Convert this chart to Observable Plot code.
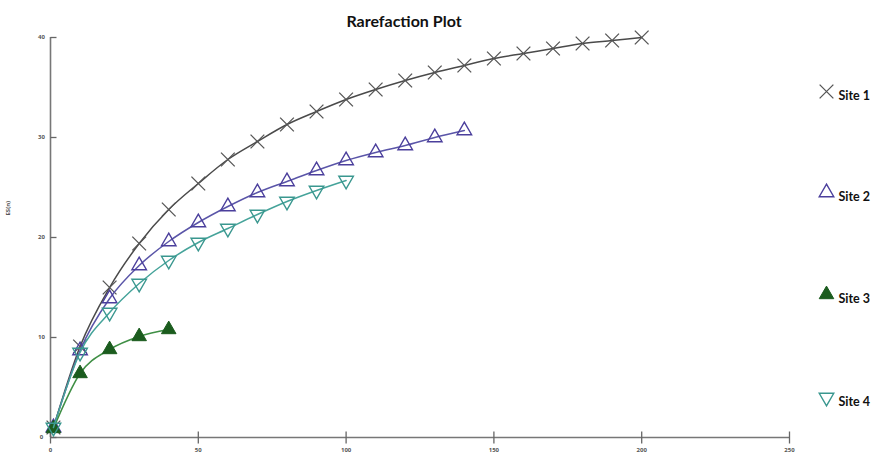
<!DOCTYPE html>
<html>
<head>
<meta charset="utf-8">
<script src="https://cdn.jsdelivr.net/npm/d3@7"></script>
<script src="https://cdn.jsdelivr.net/npm/@observablehq/plot@0.6"></script>
<style>
  html, body { margin: 0; padding: 0; background: #fff; }
  #chart svg { display: block; }
</style>
</head>
<body>
<div id="chart"></div>
<script>
const sampleSizes = [1, 10, 20, 30, 40, 50, 60, 70, 80, 90, 100, 110, 120, 130, 140, 150, 160, 170, 180, 190, 200];
const site1 = [1, 9.1, 15.0, 19.4, 22.8, 25.4, 27.8, 29.6, 31.3, 32.6, 33.8, 34.8, 35.7, 36.5, 37.2, 37.9, 38.4, 38.9, 39.4, 39.7, 40.0];
const site2 = [1, 8.7, 13.9, 17.2, 19.6, 21.5, 23.1, 24.5, 25.6, 26.7, 27.7, 28.5, 29.2, 30.0, 30.7];
const site3 = [0.9, 6.4, 8.8, 10.1, 10.8];
const site4 = [1, 8.5, 12.5, 15.4, 17.7, 19.5, 20.9, 22.3, 23.6, 24.7, 25.7];
const siteNames = ["Site 1", "Site 2", "Site 3", "Site 4"];
const xTicks = [0, 50, 100, 150, 200, 250];
const yTicks = [0, 10, 20, 30, 40];

const seriesValues = [site1, site2, site3, site4];
const rows = seriesValues.flatMap((vals, i) =>
  vals.map((v, j) => ({site: siteNames[i], n: sampleSizes[j], es: v})));

// custom symbols
const invTriangle = {
  draw(context, size) {
    const y = -Math.sqrt(size / (Math.sqrt(3) * 3));
    context.moveTo(0, -y * 2);
    context.lineTo(-Math.sqrt(3) * y, y);
    context.lineTo(Math.sqrt(3) * y, y);
    context.closePath();
  }
};
const hTick = { draw(c) { c.moveTo(0, 0); c.lineTo(6, 0); } };
const vTick = { draw(c) { c.moveTo(0, -6); c.lineTo(0, 6); } };

const styles = [
  {line: "#4a4a4a", stroke: "#555555", fill: "none", symbol: "times", r: 6.3, sw: 1.3},
  {line: "#5a55a8", stroke: "#4b3f9c", fill: "none", symbol: "triangle", r: 5.4, sw: 1.4},
  {line: "#3f8f45", stroke: "#1b5c1e", fill: "#1b5c1e", symbol: "triangle", r: 5.4, sw: 1},
  {line: "#45a39a", stroke: "#3a978f", fill: "none", symbol: invTriangle, r: 5.4, sw: 1.4}
];
const legendY = [54, 155, 257, 360];

const marks = [];
marks.push(Plot.ruleX([0], {y1: 0, y2: 40, stroke: "#777", strokeWidth: 1.6}));
marks.push(Plot.ruleY([0], {x1: 0, x2: 250, stroke: "#777", strokeWidth: 1.6}));
marks.push(Plot.dot(yTicks, {x: 0, y: d => d, symbol: hTick, stroke: "#666", strokeWidth: 1.3}));
marks.push(Plot.dot(xTicks, {x: d => d, y: 0, symbol: vTick, stroke: "#666", strokeWidth: 1.3}));
marks.push(Plot.text(yTicks, {x: 0, y: d => d, text: d => String(d), dx: -9, fontSize: 6, fill: "#555", fontWeight: "bold"}));
marks.push(Plot.text(xTicks, {x: d => d, y: 0, text: d => String(d), dy: 13, fontSize: 6, fill: "#555", fontWeight: "bold"}));
marks.push(Plot.text(["ES(n)"], {frameAnchor: "left", rotate: -90, dx: -42, dy: -22, fontSize: 6, fill: "#555", fontWeight: "bold"}));
marks.push(Plot.text(["Rarefaction Plot"], {frameAnchor: "top", dx: -16, dy: -22, fontSize: 16, fontWeight: "bold", fill: "#111", fontFamily: "Lato"}));

siteNames.forEach((name, i) => {
  const s = styles[i];
  const data = rows.filter(d => d.site === name);
  marks.push(Plot.line(data, {x: "n", y: "es", stroke: s.line, strokeWidth: 1.5, curve: "monotone-x"}));
  marks.push(Plot.dot(data, {x: "n", y: "es", symbol: s.symbol, r: s.r, stroke: s.stroke, fill: s.fill, strokeWidth: s.sw}));
  marks.push(Plot.dot([name], {frameAnchor: "top-left", dx: 776, dy: legendY[i], symbol: s.symbol, r: s.r, stroke: s.stroke, fill: s.fill, strokeWidth: s.sw}));
  marks.push(Plot.text([name], {frameAnchor: "top-left", dx: 788, dy: legendY[i], textAnchor: "start", fontSize: 12.5, fontWeight: "bold", fill: "#111", fontFamily: "Lato"}));
});

const chart = Plot.plot({
  width: 877,
  height: 456,
  marginLeft: 50,
  marginRight: 88,
  marginTop: 37,
  marginBottom: 19,
  style: {background: "#fff", overflow: "visible"},
  x: {domain: [0, 250], axis: null},
  y: {domain: [0, 40], axis: null},
  marks
});
document.getElementById("chart").appendChild(chart);
</script>
</body>
</html>
